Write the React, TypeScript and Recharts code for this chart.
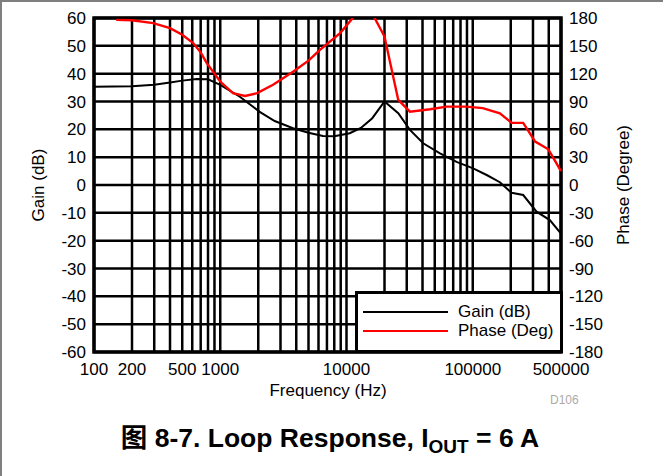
import React from 'react';
import {
  LineChart,
  Line,
  XAxis,
  YAxis,
  CartesianGrid,
  ReferenceArea,
} from 'recharts';

// gain curve (dB) vs frequency (Hz)
const gainFreq = [
  100, 200, 300, 400, 500, 650, 800, 1000, 1430, 2070, 2700, 3770, 5000, 6500,
  8000, 10600, 13000, 16000, 20000, 25700, 31800, 40500, 55000, 74400, 100700,
  130000, 164000, 203000, 251000, 320000, 408000, 500000,
];
const gainDb = [
  35.3, 35.5, 36, 36.8, 37.5, 38.1, 38, 36, 31.7, 26.2, 23, 20.4, 18.8, 17.6,
  17.5, 18.6, 20.5, 24, 30, 25.8, 19.8, 15, 11.4, 8.3, 6, 3.5, 1, -2.8, -3.6,
  -9.6, -12.6, -17.5,
];

// phase curve (deg) vs frequency (Hz)
const phaseFreq = [
  150, 200, 294, 400, 500, 610, 700, 780, 900, 1000, 1260, 1570, 1960, 2620,
  3770, 5000, 6160, 8900, 10600, 12000, 13500, 15000, 16700, 20000, 25700,
  31800, 46000, 62000, 89000, 120000, 164000, 203000, 251000, 312000, 397000,
  500000,
];
const phaseDeg = [
  178, 177.5, 174.5, 169, 162, 153, 143, 131.6, 120, 111.5, 99, 96, 99, 108,
  122, 134, 145.7, 163.7, 176, 185, 188, 186, 180, 160, 91.7, 79, 81.7, 84.5,
  84.5, 82.8, 77.3, 67, 67, 46.8, 38.5, 15,
];

const gridFreq = [
  100, 200, 300, 400, 500, 600, 700, 800, 900, 1000, 2000, 3000, 4000, 5000,
  6000, 7000, 8000, 9000, 10000, 20000, 30000, 40000, 50000, 60000, 70000,
  80000, 90000, 100000, 200000, 300000, 400000, 500000,
];
const labelFreq = [100, 200, 500, 1000, 10000, 100000, 500000];
const gainTicks = [-60, -50, -40, -30, -20, -10, 0, 10, 20, 30, 40, 50, 60];
const phaseTicks = [-180, -150, -120, -90, -60, -30, 0, 30, 60, 90, 120, 150, 180];

const series = [
  { name: 'Gain (dB)', color: '#000' },
  { name: 'Phase (Deg)', color: '#ff0000' },
];

const gainData = gainFreq.map((f, i) => ({ f, gain: gainDb[i] }));
const phaseData = phaseFreq.map((f, i) => ({ f, phase: phaseDeg[i] }));

const FONT = '"Liberation Sans", Arial, Helvetica, sans-serif';
const tickStyle = { fill: '#000', fontSize: 17, fontFamily: FONT };

function LegendBox() {
  return (
    <div
      style={{
        position: 'absolute',
        left: 355,
        top: 291,
        width: 208,
        height: 62,
        boxSizing: 'border-box',
        border: '3px solid #000',
        background: '#fff',
        fontSize: 17,
      }}
    >
      {series.map((p, i) => (
        <div
          key={p.name}
          style={{ position: 'absolute', left: 5, top: 8 + i * 19, height: 20, display: 'flex', alignItems: 'center' }}
        >
          <div style={{ width: 85, height: 0, borderTop: `2px solid ${p.color}` }} />
          <span style={{ marginLeft: 10, color: '#000', whiteSpace: 'nowrap' }}>{p.name}</span>
        </div>
      ))}
    </div>
  );
}

export default function App() {
  return (
    <div style={{ position: 'absolute', left: 0, top: 0, width: 663, height: 476, background: '#fff', fontFamily: FONT }}>
      <LineChart width={663} height={476} margin={{ top: 18, right: 0, bottom: 94, left: 0 }}>
        <CartesianGrid stroke="#000" strokeWidth={2.5} yAxisId="gain" />
        <XAxis
          dataKey="f"
          type="number"
          scale="log"
          domain={[100, 500000]}
          ticks={gridFreq}
          interval={0}
          allowDuplicatedCategory={false}
          tickFormatter={(v: number) => (labelFreq.includes(v) ? String(v) : '')}
          tick={tickStyle}
          tickLine={false}
          axisLine={false}
          tickMargin={5}
          height={30}
        />
        <YAxis
          yAxisId="gain"
          domain={[-60, 60]}
          ticks={gainTicks}
          interval={0}
          tick={tickStyle}
          tickLine={false}
          axisLine={false}
          width={94}
          allowDataOverflow
        />
        <YAxis
          yAxisId="phase"
          orientation="right"
          domain={[-180, 180]}
          ticks={phaseTicks}
          interval={0}
          tick={{ ...tickStyle, textAnchor: 'start' }}
          tickLine={false}
          axisLine={false}
          width={102}
          allowDataOverflow
        />
        <ReferenceArea
          yAxisId="gain"
          x1={100}
          x2={500000}
          y1={-60}
          y2={60}
          fill="none"
          stroke="#000"
          strokeWidth={3.5}
        />
        <Line
          yAxisId="gain"
          data={gainData}
          dataKey="gain"
          name={series[0].name}
          type="linear"
          stroke={series[0].color}
          strokeWidth={2}
          dot={false}
          isAnimationActive={false}
        />
        <Line
          yAxisId="phase"
          data={phaseData}
          dataKey="phase"
          name={series[1].name}
          type="linear"
          stroke={series[1].color}
          strokeWidth={2.4}
          dot={false}
          isAnimationActive={false}
        />
      </LineChart>

      <LegendBox />

      <div style={{ position: 'absolute', left: 0, top: 0, width: 663, height: 2, background: '#7f7f7f' }} />
      <div style={{ position: 'absolute', left: 0, top: 0, width: 2, height: 476, background: '#7f7f7f' }} />

      <div
        style={{
          position: 'absolute',
          left: 39,
          top: 185,
          transform: 'translate(-50%, -50%) rotate(-90deg)',
          fontSize: 17,
          whiteSpace: 'nowrap',
        }}
      >
        Gain (dB)
      </div>
      <div
        style={{
          position: 'absolute',
          left: 624,
          top: 185,
          transform: 'translate(-50%, -50%) rotate(-90deg)',
          fontSize: 17,
          whiteSpace: 'nowrap',
        }}
      >
        Phase (Degree)
      </div>
      <div
        style={{
          position: 'absolute',
          left: 328,
          top: 391,
          transform: 'translate(-50%, -50%)',
          fontSize: 17,
          whiteSpace: 'nowrap',
        }}
      >
        Frequency (Hz)
      </div>
      <div style={{ position: 'absolute', left: 550, top: 393, fontSize: 12, color: '#aaa' }}>D106</div>
      <div
        style={{
          position: 'absolute',
          left: 330,
          top: 435,
          transform: 'translate(-50%, -50%)',
          fontSize: 26.5,
          fontWeight: 'bold',
          whiteSpace: 'nowrap',
          fontFamily: '"Liberation Sans", "Noto Sans CJK SC", sans-serif',
        }}
      >
        图 8-7. Loop Response, I<sub style={{ fontSize: 19, verticalAlign: -6, lineHeight: 0 }}>OUT</sub> = 6 A
      </div>
    </div>
  );
}
